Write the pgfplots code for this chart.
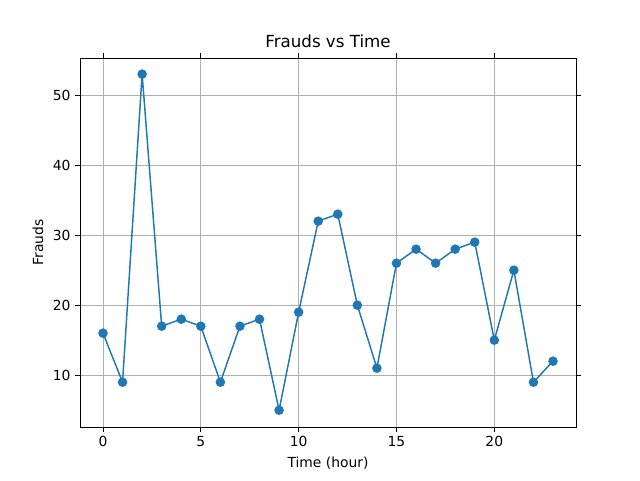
\documentclass[border=0pt]{standalone}
\usepackage{pgfplots}
\pgfplotsset{compat=1.18}
\usepackage{fontspec}
\setmainfont{DejaVu Sans}
\definecolor{mplblue}{HTML}{1F77B4}
\begin{document}
\fontsize{10.4}{12.5}\selectfont
\begin{tikzpicture}
\path[use as bounding box] (-60pt,-39.75pt) rectangle (420pt,320.25pt);
\begin{axis}[
  at={(0,0)}, anchor=south west,
  scale only axis, width=372pt, height=276.75pt,
  xmin=-1.175, xmax=24.175, ymin=2.6, ymax=55.3,
  xtick={0,5,10,15,20}, ytick={10,20,30,40,50},
  grid=major, grid style={color=black!31, line width=0.6pt},
  tick style={black, line width=0.6pt}, tick align=outside,
  major tick length=3.5pt,
  axis line style={line width=0.6pt},
  /pgf/number format/assume math mode=true,
  ticklabel style={font=\fontsize{10.4}{12}\selectfont},
  xlabel={Time (hour)}, ylabel={Frauds},
  label style={font=\fontsize{10.4}{12}\selectfont},
  title={Frauds vs Time}, title style={font=\fontsize{12.5}{14}\selectfont, yshift=-2pt},
]
\addplot[color=mplblue, line width=1.1pt, mark=*, mark size=3pt, mark options={fill=mplblue}] coordinates {
(0,16)(1,9)(2,53)(3,17)(4,18)(5,17)(6,9)(7,17)(8,18)(9,5)(10,19)(11,32)(12,33)(13,20)(14,11)(15,26)(16,28)(17,26)(18,28)(19,29)(20,15)(21,25)(22,9)(23,12)};
\end{axis}
\end{tikzpicture}
\end{document}
